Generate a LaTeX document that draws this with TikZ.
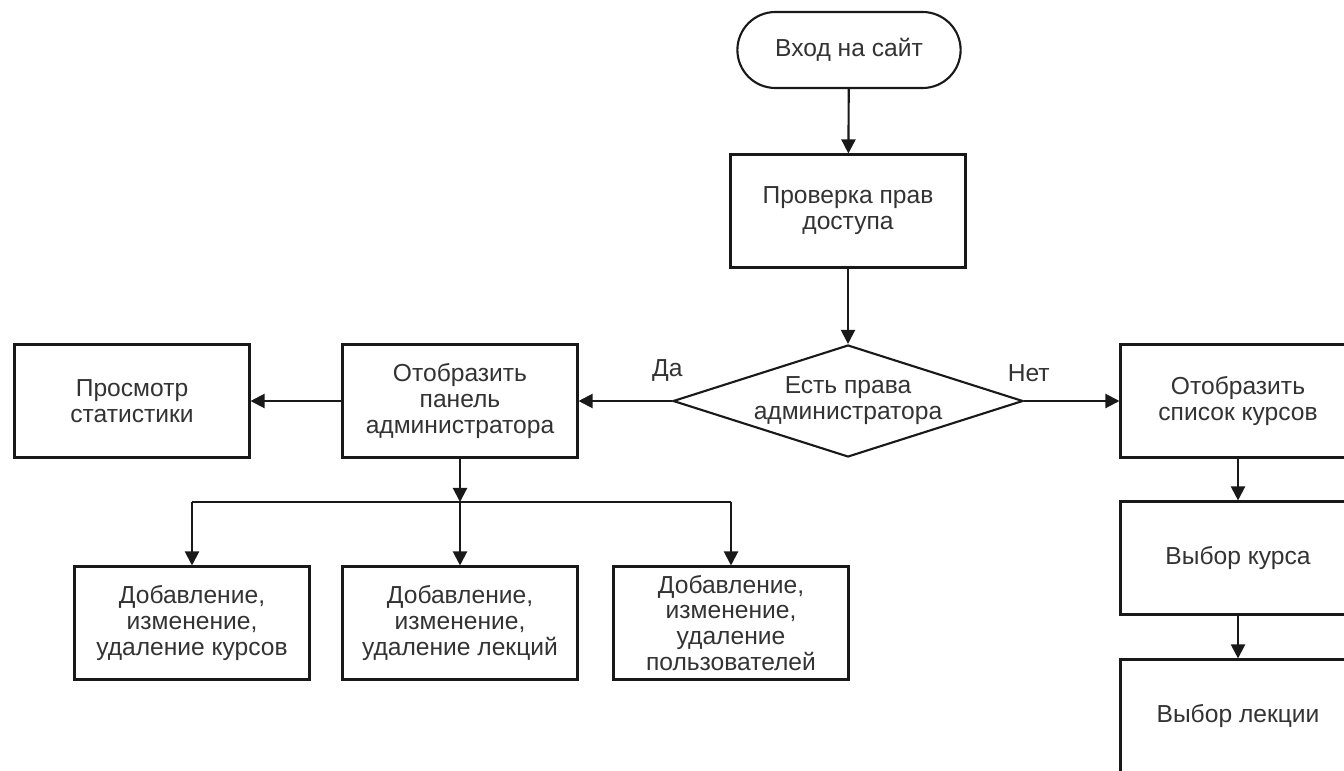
\documentclass[tikz,border=0pt]{standalone}
\usepackage{fontspec}
\setmainfont{Liberation Sans}
\usetikzlibrary{shapes.geometric, shapes.misc, arrows.meta}
\tikzstyle{startstop} = [rounded rectangle, minimum width=4.7cm, minimum height=1.52cm, text centered, draw=black!90]
\tikzstyle{process} = [rectangle, minimum width=4.7cm, minimum height=2.26cm, text centered, align=center, draw=black!90, inner sep=2pt]
\tikzstyle{decision} = [diamond, aspect=3.1, minimum width=7cm, minimum height=2.24cm, inner sep=0, text centered, align=center, draw=black!90]
\tikzstyle{line} = [line width=1.2pt, draw=black!90]
\tikzstyle{arrow} = [line width=1.2pt, draw=black!90, -{Triangle[length=8pt,width=8pt]}]

\begin{document}
\begin{tikzpicture}[x=0.02cm,y=-0.02cm,font=\fontsize{14}{14.7}\selectfont,text=black!80,every node/.append style={line width=1.2pt}]
\useasboundingbox[fill=white] (0,0) rectangle (1344,770);
% top of the chart
\node (start) [startstop] at (849,50) {Вход на сайт};
\node (check) [process] at (848,211) {Проверка прав\\доступа};
\node (isadmin) [decision] at (848,401) {Есть права\\администратора};
% admin side
\node (panel) [process] at (460,401) {Отобразить\\панель\\администратора};
\node (stats) [process] at (132,401) {Просмотр\\статистики};
\node (addcourse) [process] at (192,623) {Добавление,\\изменение,\\удаление курсов};
\node (addlect) [process] at (460,623) {Добавление,\\изменение,\\удаление лекций};
\node (adduser) [process] at (731,623) {Добавление,\\изменение,\\удаление\\пользователей};
% user side
\node (courses) [process] at (1238,401) {Отобразить\\список курсов};
\node (pickcourse) [process] at (1238,558) {Выбор курса};
\node (picklect) [process] at (1238,716) {Выбор лекции};
\coordinate (split) at (460,502);

\draw[arrow] (start) -- (check);
\draw[arrow] (check) -- (isadmin);
\draw[arrow] (isadmin.west) -- node[pos=0.05,above=7pt]{Да} (panel.east);
\draw[arrow] (isadmin.east) -- node[pos=0.05,above=7pt]{Нет} (courses.west);
\draw[arrow] (panel) -- (stats);
\draw[arrow] (panel.south) -- (split);
\draw[line] (addcourse.north |- split) -- (adduser.north |- split);
\draw[arrow] (addcourse.north |- split) -- (addcourse.north);
\draw[arrow] (split) -- (addlect.north);
\draw[arrow] (adduser.north |- split) -- (adduser.north);
\draw[arrow] (courses) -- (pickcourse);
\draw[arrow] (pickcourse) -- (picklect);
\end{tikzpicture}
\end{document}
